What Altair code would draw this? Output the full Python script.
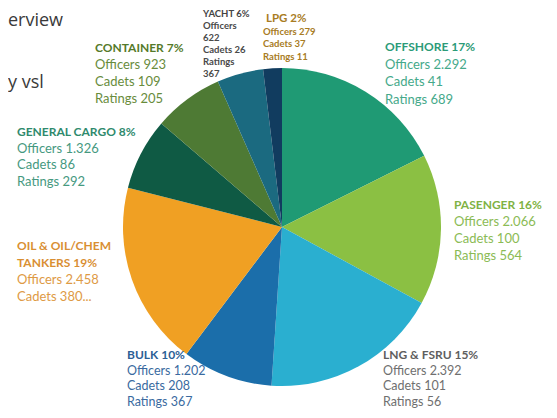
import altair as alt
import pandas as pd

# ---------------- data ----------------
categories = ["OFFSHORE", "PASENGER", "LNG & FSRU", "BULK", "OIL & OIL/CHEM TANKERS",
              "GENERAL CARGO", "CONTAINER", "YACHT", "LPG"]
# slice share of the pie as drawn (%), clockwise from 12 o'clock
share = [17.6, 15.3, 18.1, 9.2, 18.7, 7.3, 7.1, 4.7, 1.9]
pct_label = [17, 16, 15, 10, 19, 8, 7, 6, 2]
officers = ["2.292", "2.066", "2.392", "1.202", "2.458", "1.326", "923", "622", "279"]
cadets = ["41", "100", "101", "208", "380...", "86", "109", "26", "37"]
ratings = ["689", "564", "56", "367", "", "292", "205", "367", "11"]

slice_colors = ["#1f9a74", "#8bc043", "#2aafd0", "#1b6eaa", "#f0a023",
                "#0f5a44", "#4e7a34", "#1b6a80", "#113c5f"]
title_colors = ["#2b9b78", "#7fb244", "#5e5e5e", "#2c5f96", "#d98f33",
                "#2f8a6d", "#557a2a", "#444444", "#a87c24"]
body_colors = ["#45a98a", "#8bbb55", "#6f6f6f", "#3a6aa0", "#de9a45",
               "#46997f", "#688c3c", "#4a4a4a", "#a87c24"]

# ---------------- layout (chart pixel coords, page minus 8px margin) ----------------
CX, CY, R = 274, 219, 159
layout = {
    "OFFSHORE": dict(x=377, y=39, sp=17.5, ts=12, bs=13, bold_body=False),
    "PASENGER": dict(x=446, y=197, sp=17, ts=12, bs=13, bold_body=False),
    "LNG & FSRU": dict(x=375, y=347, sp=15.5, ts=12, bs=12.5, bold_body=False),
    "BULK": dict(x=119, y=347, sp=15.5, ts=12, bs=12.5, bold_body=False),
    "OIL & OIL/CHEM TANKERS": dict(x=9, y=238, sp=17, ts=12, bs=13, bold_body=False,
                                   wrap=["OIL & OIL/CHEM", "TANKERS"]),
    "GENERAL CARGO": dict(x=9, y=124, sp=16.7, ts=12, bs=13, bold_body=False),
    "CONTAINER": dict(x=87, y=40, sp=17, ts=12, bs=13, bold_body=False),
    "YACHT": dict(x=195, y=6, sp=12, ts=9.5, bs=9.5, bold_body=True, split=True),
    "LPG": dict(x=255, y=11, sp=12.6, ts=11.5, bs=9.5, bold_body=True, tdx=3),
}

rows = []
for i, cat in enumerate(categories):
    L = layout[cat]
    y = L["y"]
    if "wrap" in L:
        titles = L["wrap"][:-1] + [f"{L['wrap'][-1]} {pct_label[i]}%"]
    else:
        titles = [f"{cat} {pct_label[i]}%"]
    for t in titles:
        rows.append(dict(text=t, x=L["x"] + L.get("tdx", 0), y=y, color=title_colors[i],
                         size=L["ts"], bold=True))
        y += L["sp"]
    body = []
    if L.get("split"):
        body += ["Officers", officers[i], f"Cadets {cadets[i]}", "Ratings", ratings[i]]
    else:
        body.append(f"Officers {officers[i]}")
        body.append(f"Cadets {cadets[i]}")
        if ratings[i]:
            body.append(f"Ratings {ratings[i]}")
    for b in body:
        rows.append(dict(text=b, x=L["x"], y=y, color=body_colors[i],
                         size=L["bs"], bold=L["bold_body"]))
        y += L["sp"]

labels_df = pd.DataFrame(rows)
pie_df = pd.DataFrame({"cat": categories, "share": share, "idx": list(range(len(categories)))})

FONT = "Lato"

arc = alt.Chart(pie_df).mark_arc(outerRadius=R).encode(
    theta=alt.Theta("share:Q", stack=True),
    color=alt.Color("cat:N", scale=alt.Scale(domain=categories, range=slice_colors), legend=None),
    order=alt.Order("idx:Q"),
    x=alt.value(CX),
    y=alt.value(CY),
)

def text_layer(bold):
    return alt.Chart(labels_df).transform_filter(
        f"datum.bold == {'true' if bold else 'false'}"
    ).mark_text(
        align="left", baseline="middle", font=FONT,
        fontWeight="bold" if bold else "normal",
    ).encode(
        x=alt.X("x:Q", scale=None, axis=None),
        y=alt.Y("y:Q", scale=None, axis=None),
        text="text:N",
        color=alt.Color("color:N", scale=None),
        size=alt.Size("size:Q", scale=None),
    )

frag_df = pd.DataFrame({"text": ["erview", "y vsl"], "x": [0, 0], "y": [13, 75]})
frags = alt.Chart(frag_df).mark_text(
    align="left", baseline="middle", font="Open Sans", fontSize=18, color="#3a3a3a"
).encode(
    x=alt.X("x:Q", scale=None, axis=None),
    y=alt.Y("y:Q", scale=None, axis=None),
    text="text:N",
)

chart = alt.layer(arc, text_layer(True), text_layer(False), frags).properties(
    width=541, height=402, padding=0, autosize=alt.AutoSizeParams(type="none"),
).configure_view(stroke=None)

chart.save("out.html", embed_options={"renderer": "svg", "actions": False})
